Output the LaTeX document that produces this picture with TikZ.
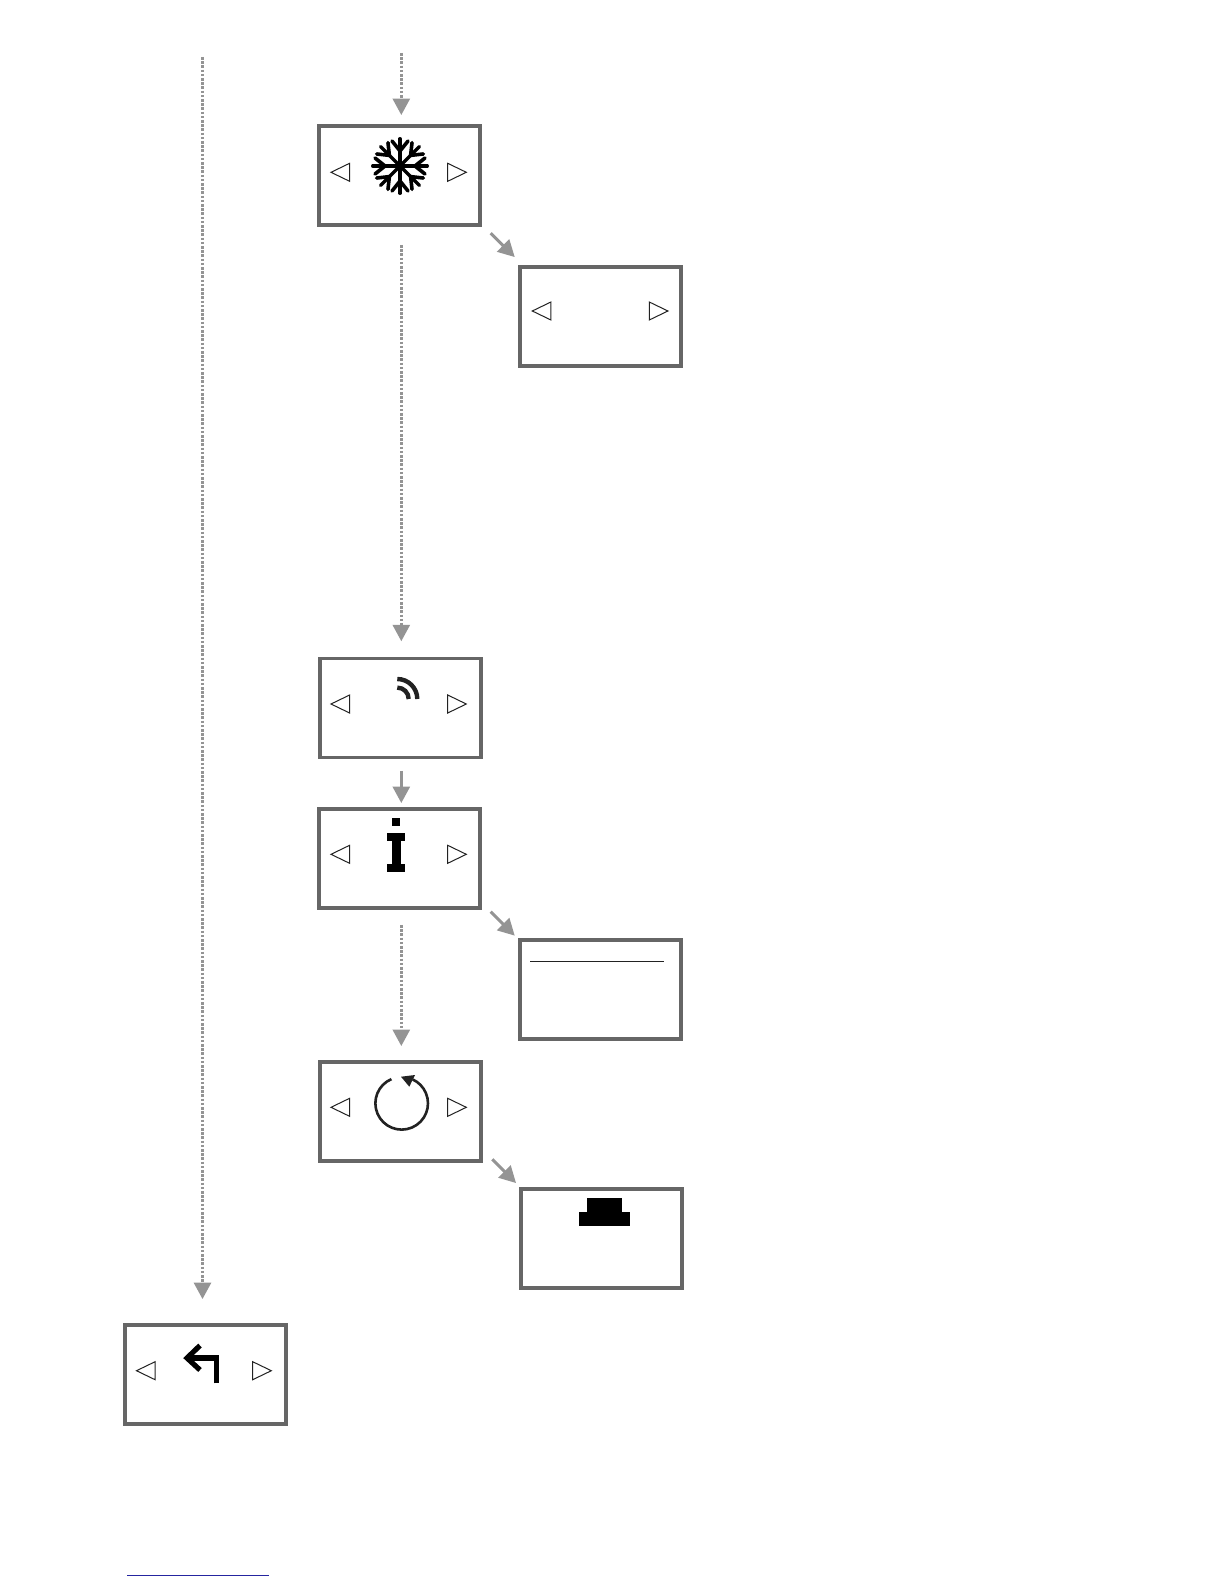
\documentclass[tikz,border=0pt]{standalone}
\usetikzlibrary{arrows.meta,calc}
\definecolor{boxgray}{HTML}{666666}
\definecolor{arrowgray}{HTML}{949494}
\definecolor{inkdark}{HTML}{222222}
\definecolor{footblue}{HTML}{2525A0}
\tikzset{
  screen/.style={draw=boxgray,line width=3.9pt,rectangle,inner sep=0pt,minimum width=161pt,minimum height=99pt,fill=white},
  flow/.style={draw=arrowgray,line width=3pt,-{Triangle[length=16.5pt,width=17pt,fill=arrowgray]}},
  flowdot/.style={flow,dash pattern=on 2.6pt off 1.6pt},
  navline/.style={draw=inkdark,line width=1pt,line join=miter,fill=white},
  navl/.pic={\draw[navline] (0,0) -- (18.6,-9) -- (18.6,9) -- cycle;},
  navr/.pic={\draw[navline] (18.6,0) -- (0,-9) -- (0,9) -- cycle;},
}
\begin{document}
\begin{tikzpicture}[x=1pt,y=-1pt]
\useasboundingbox (0,0) rectangle (1224,1584);
% screens
\node[screen] (b1) at (399.5,175.5) {};
\node[screen] (b2) at (600.5,316.5) {};
\node[screen] (b3) at (400.5,708) {};
\node[screen] (b4) at (399.5,858.5) {};
\node[screen] (b5) at (600.5,989.4) {};
\node[screen] (b6) at (400.5,1111.5) {};
\node[screen] (b7) at (601.5,1238.5) {};
\node[screen] (b8) at (205.5,1374.5) {};
% connector free ends
\coordinate (topstart) at (401.3,53);
\coordinate (leftstart) at (202.5,57);
% connectors
\draw[flowdot] (topstart) -- ($(b1.north)+(1.8,-9)$);
\draw[flowdot] (leftstart) -- ($(b8.north)+(-3,-24)$);
\draw[flowdot] ($(b1.south)+(1.8,18)$) -- ($(b3.north)+(0.8,-15.3)$);
\draw[flow] ($(b3.south)+(0.8,11.3)$) -- ($(b4.north)+(1.8,-4)$);
\draw[flowdot] ($(b4.south)+(1.8,15)$) -- ($(b6.north)+(0.8,-14)$);
\draw[flow] ($(b1.south east)+(8.7,6.3)$) -- ($(b2.north west)+(-3.3,-8)$);
\draw[flow] ($(b4.south east)+(8.7,1.7)$) -- ($(b5.north west)+(-3.3,-2.3)$);
\draw[flow] ($(b6.south east)+(9.3,-3.7)$) -- ($(b7.north west)+(-3,-4)$);
% navigation triangles
\foreach \xl/\xr/\yy in {331/447.7/172.3,532.3/649.3/311,331/447.7/704,331/447.7/854.3,331/447.7/1107.3,136.5/252.7/1370.7}{
  \pic at (\xl,\yy) {navl};
  \pic at (\xr,\yy) {navr};
}
% snowflake
\foreach \a in {0,45,...,315}{
  \begin{scope}[shift={(400,166)},rotate=\a]
    \draw[black,line width=3.4pt,line cap=round] (0,0) -- (27.3,0);
    \draw[black,line width=3.6pt,line cap=round] (15,0) -- (25,8) (15,0) -- (25,-8);
  \end{scope}
}
% signal arcs
\draw[inkdark,line width=4.4pt] (397.3,679) arc[start angle=-90,end angle=0,radius=20];
\draw[inkdark,line width=4.4pt] (397.3,687.6) arc[start angle=-90,end angle=0,radius=11.4];
% info glyph
\fill[black] (392,818) rectangle (400,826);
\fill[black] (387,833) rectangle (405,841.3);
\fill[black] (392,841) rectangle (400.7,864.5);
\fill[black] (387,864) rectangle (405,872);
% line in screen 5
\draw[inkdark,line width=1pt] (530,961.3) -- (664,961.3);
% refresh circle
\draw[inkdark,line width=2.6pt] (391.4,1079.1) arc[start angle=-113,end angle=-425,radius=26.3];
\fill[inkdark] (401,1076.7) -- (415,1075) -- (409.3,1086.7) -- cycle;
% black shape
\fill[black] (587,1198) rectangle (622,1212.5);
\fill[black] (579,1212) rectangle (630,1226);
% return arrow
\draw[black,line width=5.2pt] (216.7,1383.3) -- (216.7,1358) -- (187,1358);
\draw[black,line width=5.2pt] (200,1345.5) -- (187,1358) -- (200,1370);
% footer rule
\draw[footblue,line width=1pt] (127,1575) -- (269,1575);
\end{tikzpicture}
\end{document}
